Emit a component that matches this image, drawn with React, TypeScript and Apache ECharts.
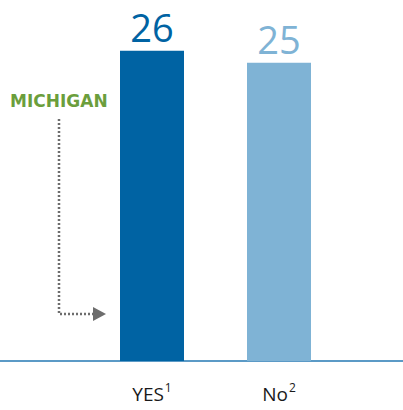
import React, { useEffect, useRef } from "react";
import * as echarts from "echarts";

const categories = ["YES", "No"];
const superscripts = ["1", "2"];
const values = [26, 25];
const barColors = ["#0063a3", "#7fb3d5"];
const annotationLabel = "MICHIGAN";

export default function App() {
  const ref = useRef<HTMLDivElement>(null);
  useEffect(() => {
    document.body.style.margin = "0";
    const chart = echarts.init(ref.current!, null, { renderer: "svg" });
    const option: any = {
      animation: false,
      backgroundColor: "#ffffff",
      grid: [
        { left: 88.5, width: 254, top: 3, bottom: 49 },
        { left: 0, right: 0, top: 3, bottom: 49 },
      ],
      xAxis: [
        {
          type: "category",
          gridIndex: 0,
          data: categories,
          axisLine: { show: false },
          axisTick: { show: false },
          axisLabel: {
            margin: 20,
            formatter: (v: string, i: number) => `{m|${v}}{s|${superscripts[i]}}`,
            rich: {
              m: { fontFamily: "Open Sans", fontSize: 19, color: "#1a1a1a", lineHeight: 22, verticalAlign: "bottom" },
              s: { fontFamily: "Open Sans", fontSize: 12, color: "#1a1a1a", lineHeight: 22, verticalAlign: "top", padding: [0, 0, 0, 1] },
            },
          },
        },
        {
          type: "category",
          gridIndex: 1,
          data: [""],
          axisLine: { show: true, lineStyle: { color: "#5b9ac6", width: 2 } },
          axisTick: { show: false },
          axisLabel: { show: false },
        },
      ],
      yAxis: [
        { type: "value", gridIndex: 0, min: 0, max: 30, show: false },
        { type: "value", gridIndex: 1, min: 0, max: 30, show: false },
      ],
      series: [
        {
          type: "bar",
          xAxisIndex: 0,
          yAxisIndex: 0,
          barWidth: 64,
          z: 3,
          data: values.map((v, i) => ({
            value: v,
            itemStyle: { color: barColors[i] },
            label: {
              show: true,
              position: "top",
              distance: 5,
              fontFamily: "Open Sans",
              fontSize: 38,
              color: barColors[i],
            },
          })),
        },
      ],
      graphic: [
        {
          type: "text",
          left: 10,
          top: 92,
          style: {
            text: annotationLabel,
            fontFamily: "DejaVu Sans",
            fontWeight: "bold",
            fontSize: 17,
            fill: "#6b9e3c",
          },
        },
        {
          type: "polyline",
          shape: { points: [[59, 119], [59, 314], [93, 314]] },
          style: { stroke: "#6d6d6d", lineWidth: 2.5, lineDash: [2, 2], fill: null },
        },
        {
          type: "polygon",
          shape: { points: [[93, 307], [106, 314], [93, 321]] },
          style: { fill: "#6d6d6d" },
        },
      ],
    };
    chart.setOption(option);
    return () => chart.dispose();
  }, []);
  return <div ref={ref} style={{ width: 403, height: 410 }} />;
}
